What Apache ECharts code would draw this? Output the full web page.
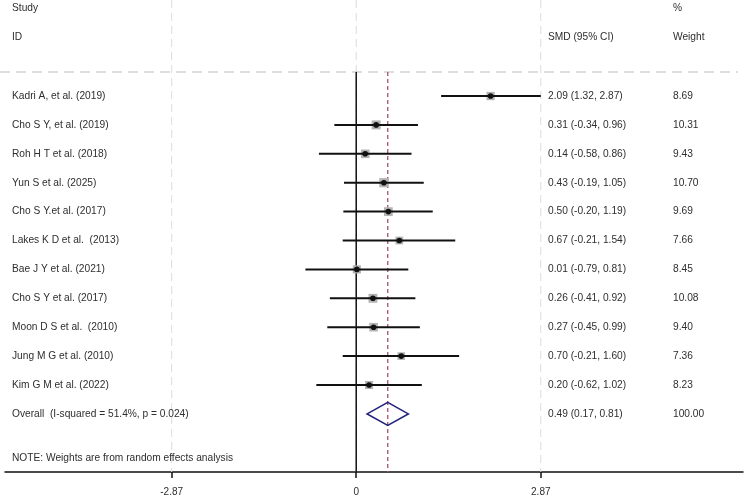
<!DOCTYPE html>
<html>
<head>
<meta charset="utf-8">
<script src="https://cdn.jsdelivr.net/npm/echarts@6/dist/echarts.min.js"></script>
<style>
html,body{margin:0;padding:0;background:#fff;}
#chart{width:750px;height:502px;}
</style>
</head>
<body>
<div id="chart"></div>
<script>
// ---- data ----
const studies = [
  'Kadri A, et al. (2019)',
  'Cho S Y, et al. (2019)',
  'Roh H T et al. (2018)',
  'Yun S et al. (2025)',
  'Cho S Y.et al. (2017)',
  'Lakes K D et al.  (2013)',
  'Bae J Y et al. (2021)',
  'Cho S Y et al. (2017)',
  'Moon D S et al.  (2010)',
  'Jung M G et al. (2010)',
  'Kim G M et al. (2022)'
];
const smd     = [2.09, 0.31, 0.14, 0.43, 0.50, 0.67, 0.01, 0.26, 0.27, 0.70, 0.20];
const ciLow   = [1.32, -0.34, -0.58, -0.19, -0.20, -0.21, -0.79, -0.41, -0.45, -0.21, -0.62];
const ciHigh  = [2.87, 0.96, 0.86, 1.05, 1.19, 1.54, 0.81, 0.92, 0.99, 1.60, 1.02];
const weights = [8.69, 10.31, 9.43, 10.70, 9.69, 7.66, 8.45, 10.08, 9.40, 7.36, 8.23];

const overallLabel = 'Overall  (I-squared = 51.4%, p = 0.024)';
const overallSmd = 0.49;
const overallLow = 0.17;
const overallHigh = 0.81;
const overallWeight = 100.00;

const noteText = 'NOTE: Weights are from random effects analysis';
const tickValues = [-2.87, 0, 2.87];
const tickLabels = ['-2.87', '0', '2.87'];

// ---- layout / style ----
const FONT = '10.2px "Liberation Sans", Arial, sans-serif';
const TXT = '#2e2e2e';
const COL_STUDY = 12, COL_CI = 548, COL_W = 673;   // pixel columns
const ROW_HEAD1 = -2.04, ROW_HEAD2 = -1.052, ROW_RULE = 0.17, ROW_NOTE = 13.53;
const Y_MIN = -2.322, Y_MAX = 14.011;

function fmt(v){ return v.toFixed(2); }
function txt(x, y, s){
  return {type:'text', style:{x:x, y:y, text:s, font:FONT, fill:TXT, align:'left', verticalAlign:'middle'}};
}

const studyData = studies.map((s, i) => [smd[i], ciLow[i], ciHigh[i], weights[i], i + 1]);
const overallRow = studies.length + 1;

const chart = echarts.init(document.getElementById('chart'), null, {renderer:'canvas'});
chart.setOption({
  animation: false,
  backgroundColor: '#fff',
  grid: {left: 5, right: 7, top: 0, bottom: 30, containLabel: false, outerBoundsMode: 'none'},
  xAxis: {
    type: 'value', min: -5.462, max: 6.015,
    axisLine: {show: true, onZero: false, lineStyle: {color: '#111', width: 1.5}},
    axisTick: {show: true, customValues: tickValues, length: 6, lineStyle: {color: '#111', width: 1.5}},
    axisLabel: {show: true, customValues: tickValues, margin: 15, color: TXT, fontSize: 10,
      fontFamily: '"Liberation Sans", Arial, sans-serif',
      formatter: v => tickLabels[tickValues.findIndex(t => Math.abs(t - v) < 1e-6)] ?? ''},
    splitLine: {show: false}
  },
  yAxis: {type: 'value', inverse: true, min: Y_MIN, max: Y_MAX, show: false},
  series: [
    {
      // reference lines and header
      type: 'custom', z: 1, silent: true,
      data: [[0]],
      renderItem: function(params, api){
        const cs = params.coordSys;
        const yTop = api.coord([0, Y_MIN])[1];
        const yBot = api.coord([0, Y_MAX])[1];
        const yRule = api.coord([0, ROW_RULE])[1];
        const kids = [];
        tickValues.forEach(t => {
          const x = api.coord([t, 0])[0];
          kids.push({type:'line', shape:{x1:x, y1:yTop, x2:x, y2:yBot},
            style:{stroke:'#dcdcdc', lineWidth:1, lineDash:[8,5]}});
        });
        kids.push({type:'line', shape:{x1:cs.x - 5, y1:yRule, x2:cs.x + cs.width - 5, y2:yRule},
          style:{stroke:'#bdbdbd', lineWidth:1.2, lineDash:[10,6]}});
        const x0 = api.coord([0, 0])[0];
        kids.push({type:'line', shape:{x1:x0, y1:yRule, x2:x0, y2:yBot},
          style:{stroke:'#111', lineWidth:1.5}});
        const xo = api.coord([overallSmd, 0])[0];
        kids.push({type:'line', shape:{x1:xo, y1:yRule, x2:xo, y2:yBot},
          style:{stroke:'#b05a78', lineWidth:1.4, lineDash:[4,3]}});
        const h1 = api.coord([0, ROW_HEAD1])[1];
        const h2 = api.coord([0, ROW_HEAD2])[1];
        kids.push(txt(COL_STUDY, h1, 'Study'));
        kids.push(txt(COL_STUDY, h2, 'ID'));
        kids.push(txt(COL_W, h1, '%'));
        kids.push(txt(COL_CI, h2, 'SMD (95% CI)'));
        kids.push(txt(COL_W, h2, 'Weight'));
        kids.push(txt(COL_STUDY, api.coord([0, ROW_NOTE])[1], noteText));
        return {type:'group', children:kids};
      }
    },
    {
      type: 'custom', z: 3, silent: true,
      data: studyData,
      renderItem: function(params, api){
        const i = params.dataIndex;
        const row = api.value(4);
        const pc = api.coord([api.value(0), row]);
        const pl = api.coord([api.value(1), row]);
        const ph = api.coord([api.value(2), row]);
        const size = 9 * Math.sqrt(api.value(3) / 10.31);
        return {type:'group', children:[
          {type:'rect', shape:{x:pc[0]-size/2, y:pc[1]-size/2, width:size, height:size},
            style:{fill:'#b3b3b3'}},
          {type:'line', shape:{x1:pl[0], y1:pl[1], x2:ph[0], y2:ph[1]},
            style:{stroke:'#111', lineWidth:2}},
          {type:'circle', shape:{cx:pc[0], cy:pc[1], r:2.8}, style:{fill:'#111'}},
          txt(COL_STUDY, pc[1], studies[i]),
          txt(COL_CI, pc[1], fmt(smd[i]) + ' (' + fmt(ciLow[i]) + ', ' + fmt(ciHigh[i]) + ')'),
          txt(COL_W, pc[1], fmt(weights[i]))
        ]};
      }
    },
    {
      type: 'custom', z: 3, silent: true,
      data: [[overallSmd, overallLow, overallHigh, overallWeight, overallRow]],
      renderItem: function(params, api){
        const row = api.value(4);
        const c = api.coord([api.value(0), row]);
        const l = api.coord([api.value(1), row]);
        const h = api.coord([api.value(2), row]);
        const half = 11.5;
        return {type:'group', children:[
          {type:'polygon', shape:{points:[[l[0], l[1]], [c[0], c[1]-half], [h[0], h[1]], [c[0], c[1]+half]]},
            style:{fill:'rgba(255,255,255,0)', stroke:'#24247f', lineWidth:1.6}},
          txt(COL_STUDY, c[1], overallLabel),
          txt(COL_CI, c[1], fmt(overallSmd) + ' (' + fmt(overallLow) + ', ' + fmt(overallHigh) + ')'),
          txt(COL_W, c[1], fmt(api.value(3)))
        ]};
      }
    }
  ]
});
</script>
</body>
</html>
